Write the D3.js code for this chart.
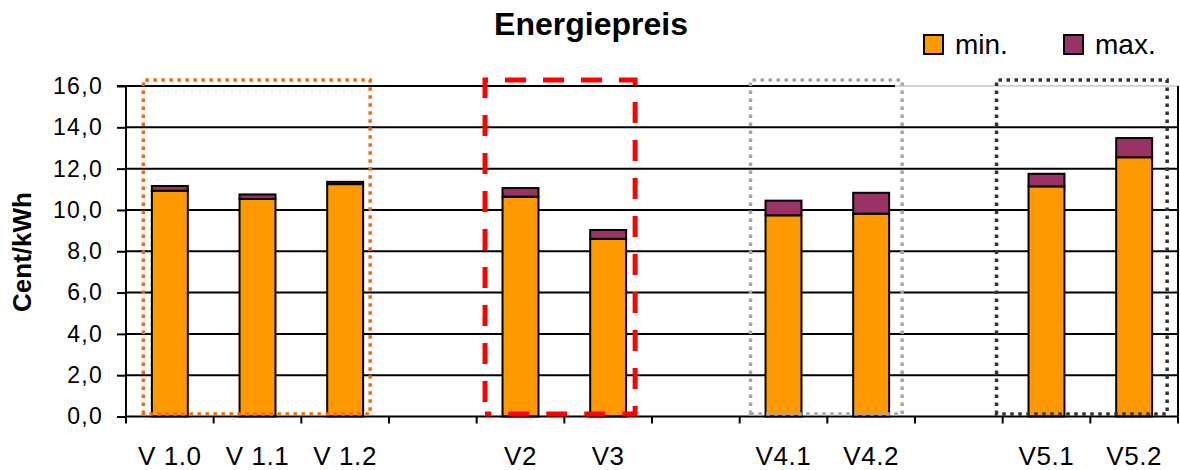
<!DOCTYPE html>
<html>
<head>
<meta charset="utf-8">
<script src="https://cdn.jsdelivr.net/npm/d3@7"></script>
<style>
  html, body { margin: 0; padding: 0; background: #fff; }
  svg { display: block; font-family: "Liberation Sans", Arial, sans-serif; }
</style>
</head>
<body>
<svg id="chart" width="1180" height="470"></svg>
<script>
// ---- data ----
const categories = ["V 1.0", "V 1.1", "V 1.2", "", "V2", "V3", "", "V4.1", "V4.2", "", "V5.1", "V5.2"];
const minValues  = [10.93, 10.53, 11.25, null, 10.64, 8.60, null, 9.74, 9.82, null, 11.14, 12.55];
const maxValues  = [0.23, 0.22, 0.11, null, 0.42, 0.43, null, 0.71, 1.01, null, 0.61, 0.93];
const yTicks     = [0, 2, 4, 6, 8, 10, 12, 14, 16];
const seriesNames = ["min.", "max."];
const title = "Energiepreis";
const yTitle = "Cent/kWh";
// group frames: [first category index, last category index]
const groupFrames = [[0, 2], [4, 5], [7, 8], [10, 11]];

// ---- layout ----
const svg = d3.select("#chart");
const plotLeft = 126, plotRight = 1178, plotTop = 86, plotBottom = 416.5;
const colors = { min: "#FF9900", max: "#993366" };

const x = d3.scaleBand()
  .domain(d3.range(categories.length))
  .range([plotLeft, plotRight])
  .paddingInner(0.59)
  .paddingOuter(0.295);
const step = x.step();
const y = d3.scaleLinear().domain([0, 16]).range([plotBottom, plotTop]);

// gridlines
const grid = svg.append("g");
yTicks.filter(t => t > 0 && t < 16).forEach(t => {
  grid.append("line").attr("x1", plotLeft).attr("x2", plotRight)
    .attr("y1", y(t)).attr("y2", y(t))
    .attr("stroke", "#000").attr("stroke-width", 2);
});
// top border (gray) and top gridline (black, partly)
grid.append("line").attr("x1", plotLeft).attr("x2", plotRight).attr("y1", y(16)).attr("y2", y(16))
  .attr("stroke", "#c8c8c8").attr("stroke-width", 1.5);
grid.append("line").attr("x1", plotLeft).attr("x2", 895).attr("y1", y(16)).attr("y2", y(16))
  .attr("stroke", "#000").attr("stroke-width", 2);
// right border
grid.append("line").attr("x1", plotRight).attr("x2", plotRight).attr("y1", y(16)).attr("y2", plotBottom)
  .attr("stroke", "#000").attr("stroke-width", 2);

// bars
const data = categories.map((c, i) => ({ i, c, min: minValues[i], max: maxValues[i] }))
  .filter(d => d.min != null);
const bars = svg.append("g");
bars.selectAll("rect.min").data(data).join("rect")
  .attr("class", "min")
  .attr("x", d => x(d.i)).attr("width", x.bandwidth())
  .attr("y", d => y(d.min)).attr("height", d => y(0) - y(d.min))
  .attr("fill", colors.min).attr("stroke", "#000").attr("stroke-width", 2);
bars.selectAll("rect.max").data(data).join("rect")
  .attr("class", "max")
  .attr("x", d => x(d.i)).attr("width", x.bandwidth())
  .attr("y", d => y(d.min + d.max)).attr("height", d => y(d.min) - y(d.min + d.max))
  .attr("fill", colors.max).attr("stroke", "#000").attr("stroke-width", 2);

// y axis
const yAxis = d3.axisLeft(y).tickValues(yTicks).tickSize(9).tickPadding(14)
  .tickFormat(d => d3.format(".1f")(d).replace(".", ","));
const gy = svg.append("g").attr("transform", `translate(${plotLeft},0)`).call(yAxis);
gy.select(".domain").attr("stroke", "#000").attr("stroke-width", 2).attr("d", `M-9,${y(16)}H0V${y(0)}`);
gy.selectAll(".tick line").attr("stroke", "#000").attr("stroke-width", 2);
gy.selectAll(".tick text").attr("font-size", 23).attr("letter-spacing", "1.3px")
  .attr("fill", "#000").attr("font-family", "Liberation Sans, Arial, sans-serif");

// x axis: ticks at slot boundaries
const boundaries = d3.range(categories.length + 1).map(k => plotLeft + k * step);
const gx = svg.append("g");
gx.append("line").attr("x1", plotLeft).attr("x2", plotRight).attr("y1", plotBottom).attr("y2", plotBottom)
  .attr("stroke", "#000").attr("stroke-width", 2);
gx.selectAll("line.tk").data(boundaries).join("line").attr("class", "tk")
  .attr("x1", d => d).attr("x2", d => d).attr("y1", plotBottom).attr("y2", plotBottom + 7)
  .attr("stroke", "#000").attr("stroke-width", 2);
gx.selectAll("text").data(categories.map((c, i) => ({ c, i })).filter(d => d.c !== "")).join("text")
  .attr("x", d => x(d.i) + x.bandwidth() / 2).attr("y", 465)
  .attr("text-anchor", "middle").attr("font-size", 26).attr("letter-spacing", "0.6px")
  .attr("fill", "#000").text(d => d.c);

// group frames (padding in px relative to outer bar edges)
const frameStyles = [
  { color: "#FF6600", width: 3.5, dash: "3.5,4.5", padL: 8.5, padR: 7 },
  { color: "#FF0000", width: 5, dash: "21,17", padL: 17.5, padR: 9 },
  { color: "#A6A6A6", width: 3.5, dash: "3.5,4.5", padL: 15, padR: 13 },
  { color: "#333333", width: 3.5, dash: "3.5,4.5", padL: 32, padR: 15 }
];
const frameTop = 80, frameBottom = 414;
const frames = svg.append("g");
groupFrames.forEach((g, k) => {
  const s = frameStyles[k];
  const x0 = x(g[0]) - s.padL;
  const x1 = x(g[1]) + x.bandwidth() + s.padR;
  frames.append("path")
    .attr("d", `M${x0},${frameBottom}V${frameTop}H${x1}V${frameBottom}Z`)
    .attr("fill", "none").attr("stroke", s.color).attr("stroke-width", s.width)
    .attr("stroke-dasharray", s.dash)
    .attr("stroke-dashoffset", k === 1 ? 26 : 0);
});

// title
svg.append("text").attr("x", 591).attr("y", 35).attr("text-anchor", "middle")
  .attr("font-size", 32).attr("font-weight", "bold").attr("fill", "#000").text(title);

// y title
svg.append("text").attr("transform", "translate(31,252) rotate(-90)")
  .attr("text-anchor", "middle").attr("font-size", 26).attr("font-weight", "bold")
  .attr("fill", "#000").text(yTitle);

// legend
const legend = svg.append("g");
const legendX = [924, 1064];
seriesNames.forEach((n, k) => {
  legend.append("rect").attr("x", legendX[k]).attr("y", 35).attr("width", 19).attr("height", 19)
    .attr("fill", k === 0 ? colors.min : colors.max).attr("stroke", "#000").attr("stroke-width", 2);
  legend.append("text").attr("x", legendX[k] + 31).attr("y", 54)
    .attr("font-size", 28).attr("fill", "#000").text(n);
});
</script>
</body>
</html>
